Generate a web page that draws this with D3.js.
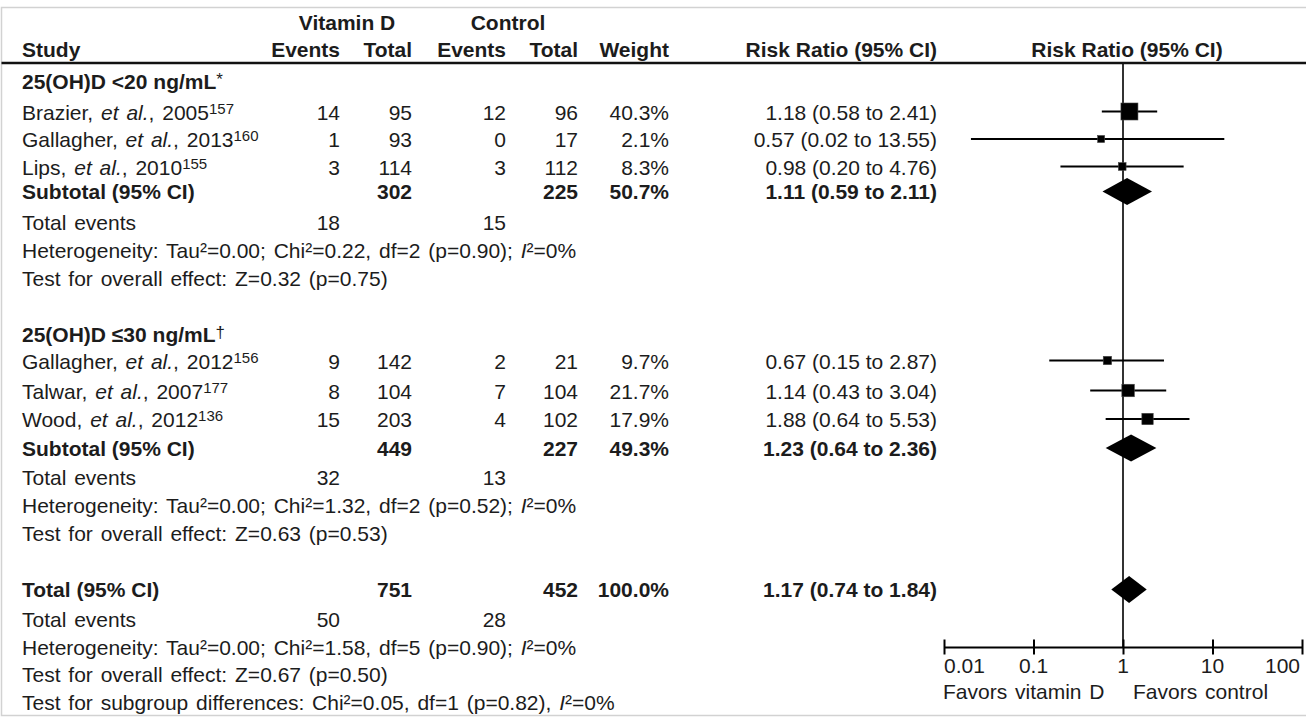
<!DOCTYPE html>
<html><head><meta charset="utf-8">
<script src="https://cdn.jsdelivr.net/npm/d3@7"></script>
<style>
body{margin:0;background:#fff}
svg{display:block}
text{font-family:"Liberation Sans",Arial,sans-serif;fill:#1c1c1c}
</style>
</head><body>
<svg id="chart" width="1306" height="719"></svg>
<script>
// ---------------- data ----------------
const groupTitles = ["25(OH)D <20 ng/mL", "25(OH)D \u226430 ng/mL"];
const groupMarks = ["*", "\u2020"];
const studyAuthors = ["Brazier", "Gallagher", "Lips", "Gallagher", "Talwar", "Wood"];
const studyYears = ["2005", "2013", "2010", "2012", "2007", "2012"];
const studyRefs = ["157", "160", "155", "156", "177", "136"];
const studyGroup = [0, 0, 0, 1, 1, 1];
const vitEvents = [14, 1, 3, 9, 8, 15];
const vitTotal = [95, 93, 114, 142, 104, 203];
const ctlEvents = [12, 0, 3, 2, 7, 4];
const ctlTotal = [96, 17, 112, 21, 104, 102];
const weights = [40.3, 2.1, 8.3, 9.7, 21.7, 17.9];
const rrEst = [1.18, 0.57, 0.98, 0.67, 1.14, 1.88];
const rrLow = [0.58, 0.02, 0.20, 0.15, 0.43, 0.64];
const rrHigh = [2.41, 13.55, 4.76, 2.87, 3.04, 5.53];

const subVitTotal = [302, 449];
const subCtlTotal = [225, 227];
const subWeight = [50.7, 49.3];
const subEst = [1.11, 1.23];
const subLow = [0.59, 0.64];
const subHigh = [2.11, 2.36];
const subVitEvents = [18, 32];
const subCtlEvents = [15, 13];
const subTau = ["0.00", "0.00"];
const subChi = ["0.22", "1.32"];
const subDf = [2, 2];
const subHetP = ["0.90", "0.52"];
const subI2 = ["0", "0"];
const subZ = ["0.32", "0.63"];
const subZP = ["0.75", "0.53"];

const totVitTotal = 751, totCtlTotal = 452, totWeight = 100.0;
const totEst = 1.17, totLow = 0.74, totHigh = 1.84;
const totVitEvents = 50, totCtlEvents = 28;
const totTau = "0.00", totChi = "1.58", totDf = 5, totHetP = "0.90", totI2 = "0";
const totZ = "0.67", totZP = "0.50";
const sgChi = "0.05", sgDf = 1, sgP = "0.82", sgI2 = "0";

const tickValues = [0.01, 0.1, 1, 10, 100];
const tickLabels = ["0.01", "0.1", "1", "10", "100"];
const favorLabels = ["Favors vitamin D", "Favors control"];

// ---------------- layout ----------------
const W = 1306, H = 719, FS = 21, SUP = 15;
// text baselines for each table row, in reading order
const rowBase = [89, 119.5, 147, 174.5, 199, 229.5, 257.5, 285.5,
                 341.5, 368.5, 398.5, 427, 455.5, 484.5, 512.5, 540.5,
                 596.5, 626.5, 654.5, 681.5, 709.5];
const col = {study: 22, vE: 340, vT: 412, cE: 506, cT: 578, wt: 669, rr: 937};
const axisY = 647, headerLineY = 63;
const WS = 2; // extra word spacing in the text column

const svg = d3.select("#chart");

// frame
svg.append("rect").attr("x", 1.5).attr("y", 7.5).attr("width", W + 10).attr("height", 708)
  .attr("fill", "none").attr("stroke", "#d2d2d2").attr("stroke-width", 1.5);

const x = d3.scaleLog().domain([0.01, 100]).range([944, 1302]);
const boxSize = d3.scaleSqrt().domain([0, 40.3]).range([0, 17]);

function rich(x0, y0, segs, opts = {}) {
  const t = svg.append("text").attr("x", x0).attr("y", y0)
    .attr("font-size", opts.size || FS)
    .attr("text-anchor", opts.anchor || "start")
    .attr("font-weight", opts.bold ? "bold" : "normal");
  if (opts.ws) t.attr("word-spacing", opts.ws);
  let shift = 0;
  segs.forEach(s => {
    if (typeof s === "string") s = {t: s};
    const ts = t.append("tspan").text(s.t);
    if (s.i) ts.attr("font-style", "italic");
    if (s.b !== undefined) ts.attr("font-weight", s.b ? "bold" : "normal");
    const want = s.sup ? -(s.rise || 6) : 0;
    if (want !== shift) { ts.attr("dy", want - shift); shift = want; }
    if (s.sup) ts.attr("font-size", s.size || SUP);
  });
  return t;
}
const fmt2 = d3.format(".2f");
const fmtW = v => d3.format(".1f")(v) + "%";
const rrText = (e, l, h) => `${fmt2(e)} (${fmt2(l)} to ${fmt2(h)})`;

// header
rich(347, 30, ["Vitamin D"], {bold: true, anchor: "middle"});
rich(508, 30, ["Control"], {bold: true, anchor: "middle"});
rich(col.study, 56.5, ["Study"], {bold: true});
rich(col.vE, 56.5, ["Events"], {bold: true, anchor: "end"});
rich(col.vT, 56.5, ["Total"], {bold: true, anchor: "end"});
rich(col.cE, 56.5, ["Events"], {bold: true, anchor: "end"});
rich(col.cT, 56.5, ["Total"], {bold: true, anchor: "end"});
rich(col.wt, 56.5, ["Weight"], {bold: true, anchor: "end"});
rich(col.rr, 56.5, ["Risk Ratio (95% CI)"], {bold: true, anchor: "end"});
rich(x(1) + 4, 56.5, ["Risk Ratio (95% CI)"], {bold: true, anchor: "middle"});

// reference line (drawn before header rule and markers)
svg.append("line").attr("x1", x(1)).attr("x2", x(1)).attr("y1", headerLineY).attr("y2", axisY)
  .attr("stroke", "#333").attr("stroke-width", 2);
svg.append("line").attr("x1", 1.5).attr("x2", W).attr("y1", headerLineY).attr("y2", headerLineY)
  .attr("stroke", "#111").attr("stroke-width", 2.5);

function numRow(y, vals, bold) {
  const keys = ["vE", "vT", "cE", "cT", "wt"];
  keys.forEach((k, i) => {
    if (vals[i] !== null && vals[i] !== undefined)
      rich(col[k], y, [String(vals[i])], {anchor: "end", bold});
  });
}
function diamond(y, e, l, h) {
  const hh = 13.5;
  svg.append("path")
    .attr("d", `M${x(l)},${y}L${x(e)},${y - hh}L${x(h)},${y}L${x(e)},${y + hh}Z`)
    .attr("fill", "#000");
}
function study(i, y) {
  rich(col.study, y, [studyAuthors[i] + ", ", {t: "et al.", i: true}, ", " + studyYears[i], {t: studyRefs[i], sup: true}], {ws: WS});
  numRow(y, [vitEvents[i], vitTotal[i], ctlEvents[i], ctlTotal[i], fmtW(weights[i])]);
  rich(col.rr, y, [rrText(rrEst[i], rrLow[i], rrHigh[i])], {anchor: "end"});
  const my = y - 8;
  svg.append("line").attr("x1", x(rrLow[i])).attr("x2", x(rrHigh[i])).attr("y1", my).attr("y2", my)
    .attr("stroke", "#000").attr("stroke-width", 2);
  const s = Math.max(7, boxSize(weights[i]));
  svg.append("rect").attr("x", x(rrEst[i]) - s / 2).attr("y", my - s / 2).attr("width", s).attr("height", s)
    .attr("fill", "#000").attr("stroke", "#444").attr("stroke-width", 0.6);
}
function hetLines(y1, y2, tau, chi, df, p, i2, z, zp) {
  rich(col.study, y1, [`Heterogeneity: Tau\u00b2=${tau}; Chi\u00b2=${chi}, df=${df} (p=${p}); `, {t: "I", i: true}, `\u00b2=${i2}%`], {ws: WS});
  rich(col.study, y2, [`Test for overall effect: Z=${z} (p=${zp})`], {ws: WS});
}

let r = 0;
[0, 1].forEach(g => {
  rich(col.study, rowBase[r++], [groupTitles[g], {t: groupMarks[g], sup: true, b: false, size: 17, rise: 4}], {bold: true});
  studyGroup.forEach((gg, i) => { if (gg === g) study(i, rowBase[r++]); });
  const ys = rowBase[r++];
  rich(col.study, ys, ["Subtotal (95% CI)"], {bold: true});
  numRow(ys, [null, subVitTotal[g], null, subCtlTotal[g], fmtW(subWeight[g])], true);
  rich(col.rr, ys, [rrText(subEst[g], subLow[g], subHigh[g])], {anchor: "end", bold: true});
  diamond(ys - 7.5, subEst[g], subLow[g], subHigh[g]);
  const ye = rowBase[r++];
  rich(col.study, ye, ["Total events"], {ws: WS});
  numRow(ye, [subVitEvents[g], null, subCtlEvents[g], null, null]);
  hetLines(rowBase[r++], rowBase[r++], subTau[g], subChi[g], subDf[g], subHetP[g], subI2[g], subZ[g], subZP[g]);
});
// overall
const yt = rowBase[r++];
rich(col.study, yt, ["Total (95% CI)"], {bold: true});
numRow(yt, [null, totVitTotal, null, totCtlTotal, fmtW(totWeight)], true);
rich(col.rr, yt, [rrText(totEst, totLow, totHigh)], {anchor: "end", bold: true});
diamond(yt - 7, totEst, totLow, totHigh);
const yte = rowBase[r++];
rich(col.study, yte, ["Total events"], {ws: WS});
numRow(yte, [totVitEvents, null, totCtlEvents, null, null]);
hetLines(rowBase[r++], rowBase[r++], totTau, totChi, totDf, totHetP, totI2, totZ, totZP);
rich(col.study, rowBase[r++], [`Test for subgroup differences: Chi\u00b2=${sgChi}, df=${sgDf} (p=${sgP}), `, {t: "I", i: true}, `\u00b2=${sgI2}%`], {ws: WS});

// axis
const axis = d3.axisBottom(x).tickValues(tickValues).tickSize(0).tickFormat("");
const ag = svg.append("g").attr("transform", `translate(0,${axisY})`).call(axis);
ag.select(".domain").attr("stroke", "#000").attr("stroke-width", 2);
ag.selectAll(".tick line").remove();
ag.selectAll(".tick").append("line").attr("y1", -7.5).attr("y2", 7.5).attr("stroke", "#000").attr("stroke-width", 2);
tickValues.forEach((v, i) => {
  const anchor = i === 0 ? "start" : (i === tickValues.length - 1 ? "end" : "middle");
  const dx = i === tickValues.length - 1 ? -2 : 0;
  rich(x(v) + dx, axisY + 26, [tickLabels[i]], {anchor});
});
rich(943, axisY + 52, [favorLabels[0]], {ws: WS});
rich(1133, axisY + 52, [favorLabels[1]], {ws: WS});
</script>
</body></html>
